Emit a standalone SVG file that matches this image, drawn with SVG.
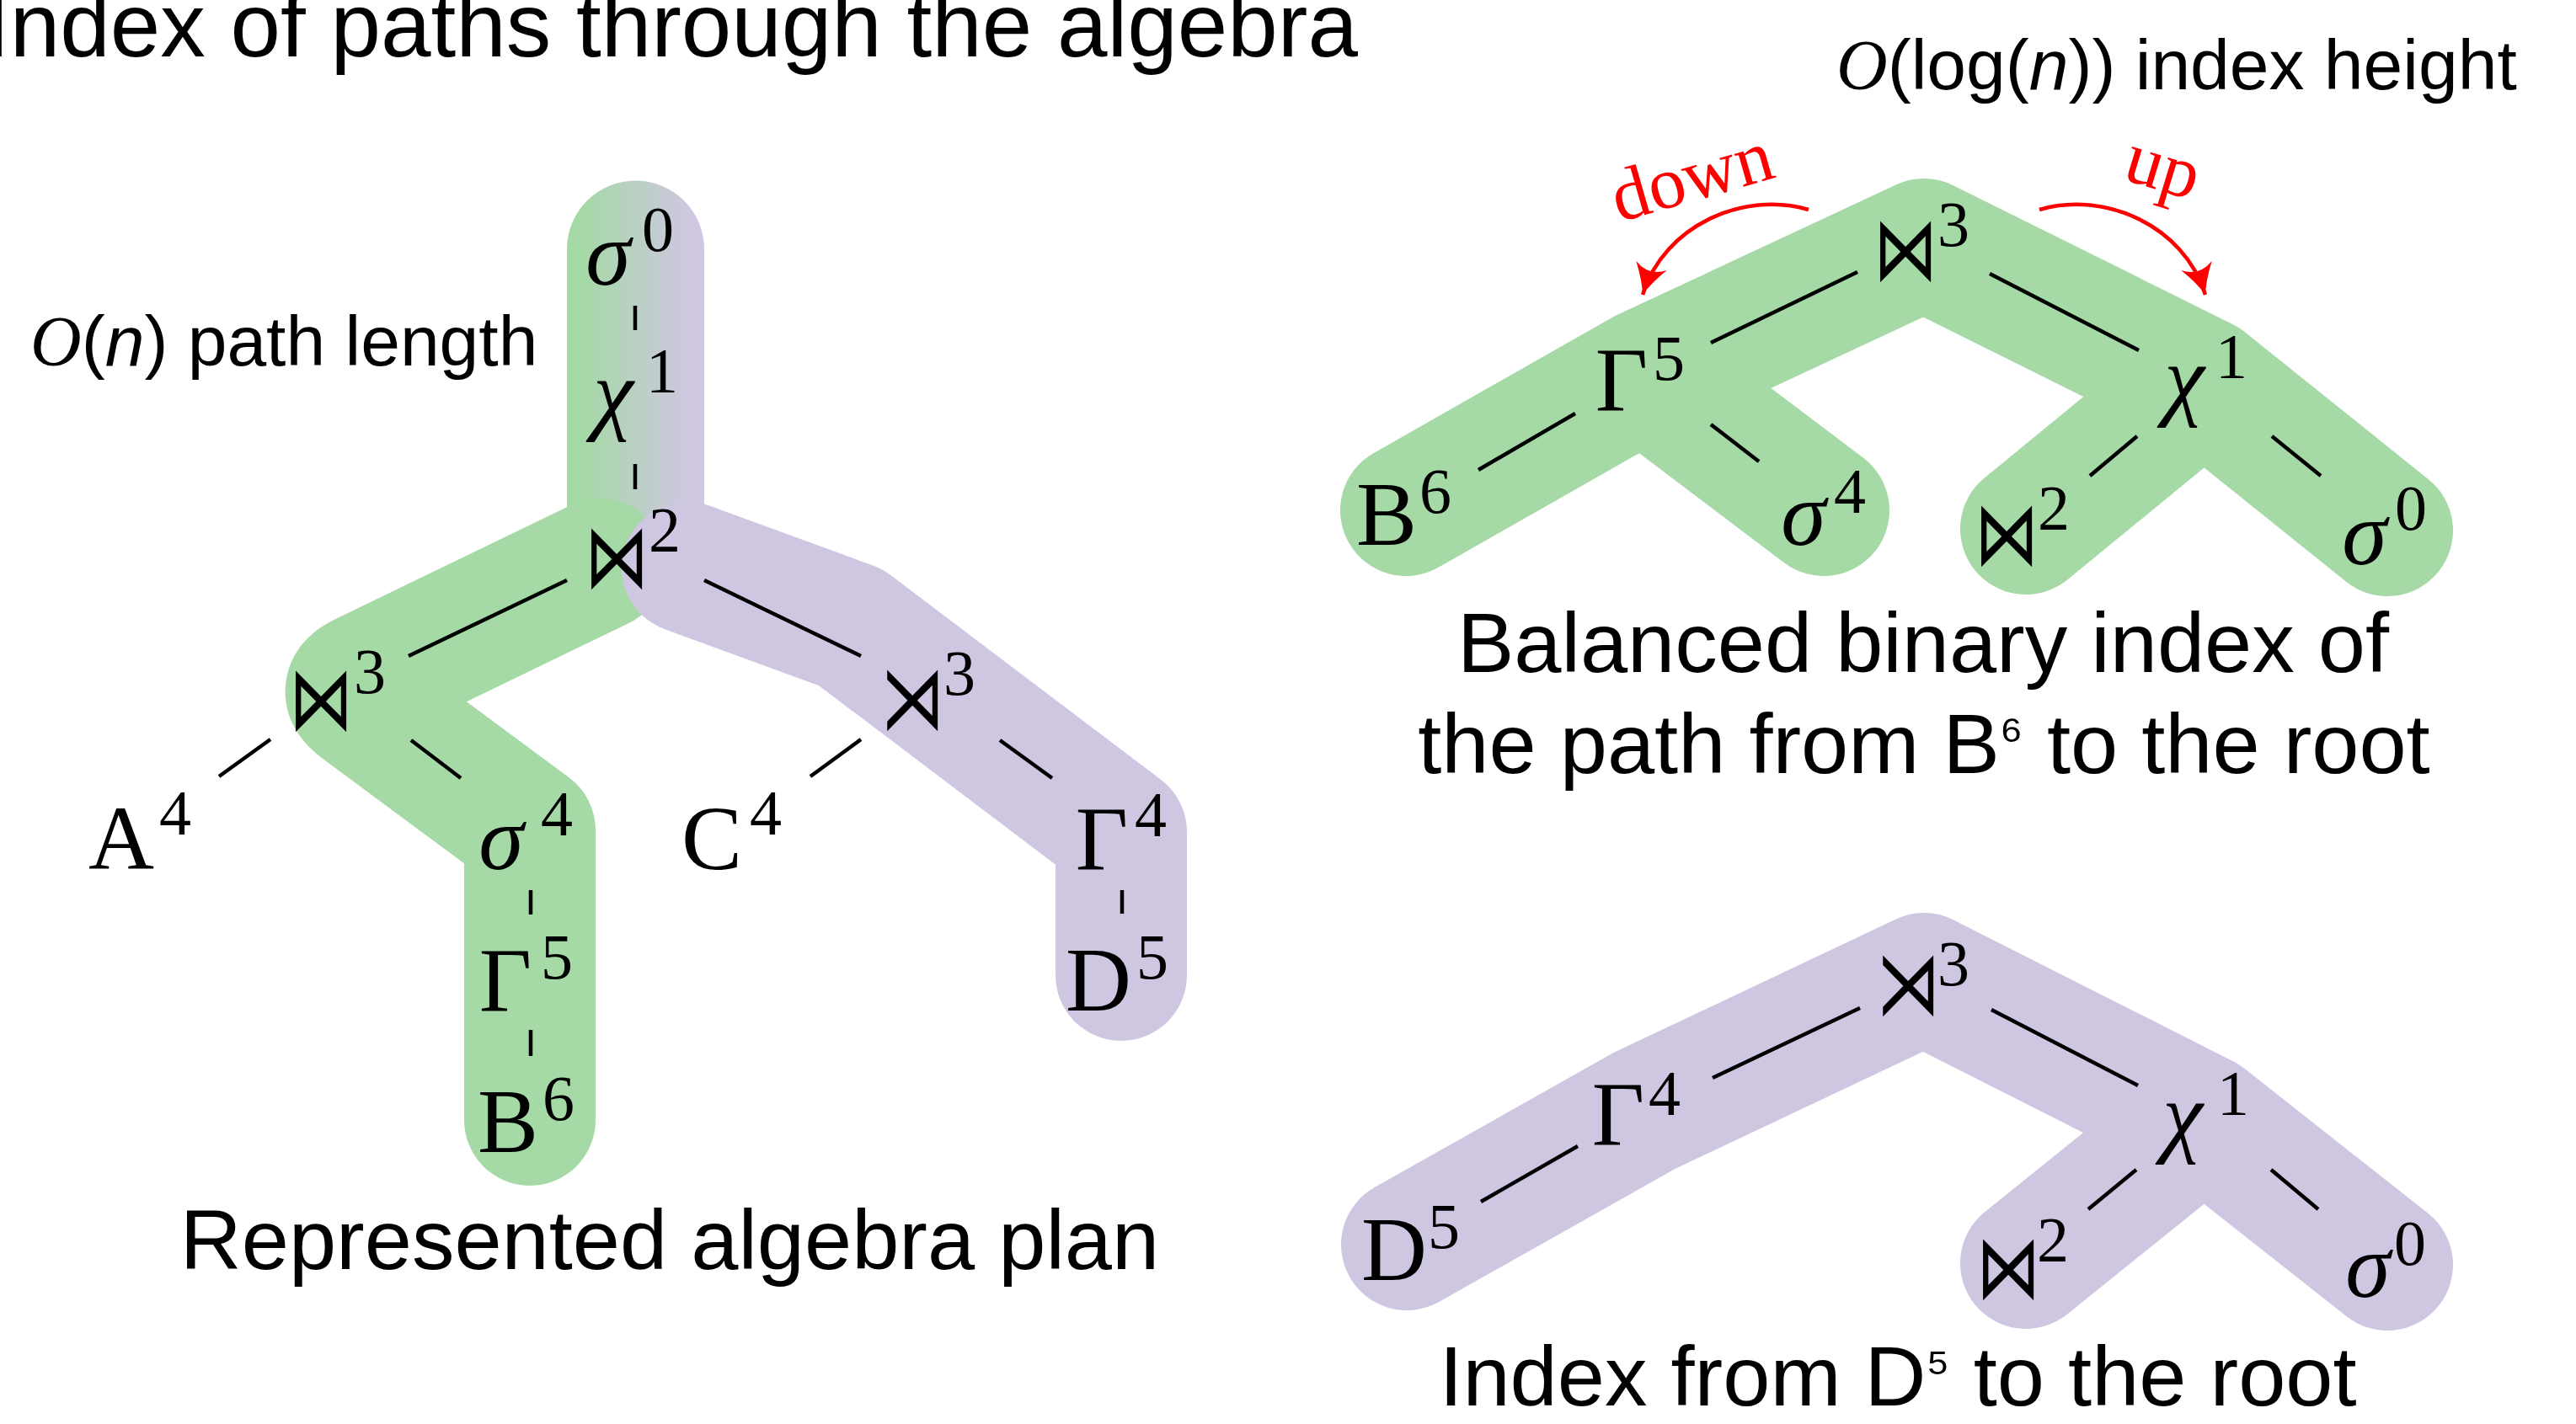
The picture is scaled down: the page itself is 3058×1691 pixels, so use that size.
<svg xmlns="http://www.w3.org/2000/svg" width="3058" height="1691" viewBox="0 0 3058 1691">
<style>
.bg{fill:none;stroke-width:156;stroke-linecap:round;stroke-linejoin:round}
.g{stroke:#a5d9a5}
.p{stroke:#cfc7e2}
.e{stroke:#000;stroke-width:4.5;fill:none}
.m{font-family:"Liberation Serif","DejaVu Serif",serif;font-size:108px;text-anchor:middle;fill:#000}
.i{font-style:italic}
.s{font-family:"Liberation Serif","DejaVu Serif",serif;font-size:76px;text-anchor:middle;fill:#000}
.op{font-family:"DejaVu Sans",sans-serif;font-size:76px;text-anchor:middle;fill:#000}
.t{font-family:"Liberation Sans",Arial,sans-serif;fill:#000}
.cap{font-family:"Liberation Sans",Arial,sans-serif;font-size:101px;text-anchor:middle;fill:#000}
.sm{font-size:68px}
.red{fill:none;stroke:#ff0000;stroke-width:4.5}
.rt{font-family:"Liberation Serif","DejaVu Serif",serif;font-size:88px;fill:#ff0000;text-anchor:middle}
</style>
<defs>
<linearGradient id="colGrad" gradientUnits="userSpaceOnUse" x1="673" y1="0" x2="836" y2="0">
<stop offset="0.1" stop-color="#a5d9a5"/>
<stop offset="0.9" stop-color="#cfc7e2"/>
</linearGradient>
<marker id="ah" markerUnits="userSpaceOnUse" markerWidth="44" markerHeight="44" viewBox="-38 -22 44 44" refX="0" refY="0" orient="auto">
<path d="M0,0 Q-15,-5 -36,-19 Q-23,0 -36,19 Q-15,5 0,0 Z" fill="#ff0000"/>
</marker>
</defs>

<g id="bands">
<path d="M673,296 A81.5,81.5 0 0 1 836,296 L836,650 L673,650 Z" fill="url(#colGrad)"/>
<path class="bg g" d="M712,670 L431,806 Q404,819 428,837 L629,986 L629,1330"/>
<path class="bg p" d="M816,674 L1010,745 L1331,988 L1331,1158"/>
<path class="bg g" d="M1669,606 L1952,445 L2284,290 L2616,455 L2834,630 M1952,445 L2165,606 M2616,455 L2405,628"/>
<path class="bg p" d="M1670,1478 L1952,1319 L2284,1162 L2616,1330 L2834,1502 M2616,1330 L2405,1500"/>
</g>

<g id="connectors">
<line class="e" x1="754" y1="363" x2="754" y2="392"/>
<line class="e" x1="754" y1="551" x2="754" y2="581"/>
<line class="e" x1="673" y1="689" x2="485" y2="779"/>
<line class="e" x1="836" y1="689" x2="1022" y2="779"/>
<line class="e" x1="321" y1="878" x2="260" y2="922"/>
<line class="e" x1="488" y1="879" x2="547" y2="924"/>
<line class="e" x1="630" y1="1057" x2="630" y2="1086"/>
<line class="e" x1="630" y1="1223" x2="630" y2="1254"/>
<line class="e" x1="1022" y1="878" x2="962" y2="922"/>
<line class="e" x1="1187" y1="879" x2="1249" y2="924"/>
<line class="e" x1="1332" y1="1057" x2="1332" y2="1085"/>

<line class="e" x1="2205" y1="323" x2="2031" y2="407"/>
<line class="e" x1="2362" y1="325" x2="2539" y2="416"/>
<line class="e" x1="1870" y1="491" x2="1755" y2="558"/>
<line class="e" x1="2031" y1="504" x2="2088" y2="548"/>
<line class="e" x1="2537" y1="518" x2="2481" y2="565"/>
<line class="e" x1="2697" y1="518" x2="2755" y2="565"/>

<line class="e" x1="2208" y1="1197" x2="2033" y2="1280"/>
<line class="e" x1="2364" y1="1199" x2="2538" y2="1289"/>
<line class="e" x1="1873" y1="1361" x2="1758" y2="1427"/>
<line class="e" x1="2536" y1="1389" x2="2479" y2="1436"/>
<line class="e" x1="2696" y1="1389" x2="2752" y2="1436"/>

<path class="red" marker-end="url(#ah)" d="M2147,249 C2070,226 1975,268 1950,350"/>
<path class="red" marker-end="url(#ah)" d="M2421,249 C2498,226 2593,268 2618,350"/>
</g>

<g id="texts">
<text class="t" x="-18" y="67" font-size="107">Index of paths through the algebra</text>
<text class="t" x="36" y="434" font-size="84"><tspan font-family="Liberation Serif" font-style="italic">O</tspan>(<tspan font-style="italic">n</tspan>) path length</text>
<text class="t" x="2180" y="106" font-size="84"><tspan font-family="Liberation Serif" font-style="italic">O</tspan>(log(<tspan font-style="italic">n</tspan>)) index height</text>
<text class="cap" x="795" y="1507">Represented algebra plan</text>
<text class="cap" x="2283" y="798">Balanced binary index of</text>
<text class="cap" x="2284" y="918">the path from B<tspan class="sm" dy="-20">⁶</tspan><tspan dy="20"> to the root</tspan></text>
<text class="cap" x="2253" y="1669">Index from D<tspan class="sm" dy="-20">⁵</tspan><tspan dy="20"> to the root</tspan></text>
<text class="rt" x="2016" y="237" transform="rotate(-16 2016 237)">down</text>
<text class="rt" x="2560" y="225" transform="rotate(17 2560 225)">up</text>
</g>

<g id="node-L-sigma0"><text class="m i" x="722" y="338">σ</text><text class="s" x="781" y="298">0</text></g>
<g id="node-L-chi1"><text class="m i" x="728" y="502">χ</text><text class="s" x="786" y="466">1</text></g>
<g id="node-L-join2"><text class="op" transform="translate(732,697) scale(1,1.39)">⋈</text><text class="s" x="789" y="655">2</text></g>
<g id="node-L-join3"><text class="op" transform="translate(381,866) scale(1,1.39)">⋈</text><text class="s" x="439" y="823">3</text></g>
<g id="node-L-A4"><text class="m" x="144" y="1032">A</text><text class="s" x="208" y="991">4</text></g>
<g id="node-L-sigma4"><text class="m i" x="595" y="1032">σ</text><text class="s" x="661" y="992">4</text></g>
<g id="node-L-Gamma5"><text class="m" x="600" y="1200">Γ</text><text class="s" x="661" y="1162">5</text></g>
<g id="node-L-B6"><text class="m" x="603" y="1368">B</text><text class="s" x="663" y="1330">6</text></g>
<g id="node-L-C4"><text class="m" x="845" y="1032">C</text><text class="s" x="909" y="991">4</text></g>
<g id="node-L-semi3"><text class="op" transform="translate(1083,865) scale(1,1.39)">⋊</text><text class="s" x="1139" y="825">3</text></g>
<g id="node-L-Gamma4"><text class="m" x="1308" y="1032">Γ</text><text class="s" x="1366" y="993">4</text></g>
<g id="node-L-D5"><text class="m" x="1304" y="1200">D</text><text class="s" x="1368" y="1162">5</text></g>

<g id="node-R1-join3"><text class="op" transform="translate(2262,332) scale(1,1.39)">⋈</text><text class="s" x="2319" y="292">3</text></g>
<g id="node-R1-Gamma5"><text class="m" x="1925" y="487">Γ</text><text class="s" x="1981" y="451">5</text></g>
<g id="node-R1-chi1"><text class="m i" x="2593" y="485">χ</text><text class="s" x="2649" y="449">1</text></g>
<g id="node-R1-B6"><text class="m" x="1646" y="647">B</text><text class="s" x="1704" y="609">6</text></g>
<g id="node-R1-sigma4"><text class="m i" x="2141" y="647">σ</text><text class="s" x="2196" y="609">4</text></g>
<g id="node-R1-join2"><text class="op" transform="translate(2382,670) scale(1,1.39)">⋈</text><text class="s" x="2438" y="629">2</text></g>
<g id="node-R1-sigma0"><text class="m i" x="2807" y="670">σ</text><text class="s" x="2862" y="629">0</text></g>

<g id="node-R2-semi3"><text class="op" transform="translate(2265,1204) scale(1,1.39)">⋊</text><text class="s" x="2319" y="1170">3</text></g>
<g id="node-R2-Gamma4"><text class="m" x="1921" y="1359">Γ</text><text class="s" x="1976" y="1324">4</text></g>
<g id="node-R2-D5"><text class="m" x="1655" y="1520">D</text><text class="s" x="1714" y="1482">5</text></g>
<g id="node-R2-chi1"><text class="m i" x="2591" y="1360">χ</text><text class="s" x="2651" y="1324">1</text></g>
<g id="node-R2-join2"><text class="op" transform="translate(2384,1541) scale(1,1.39)">⋈</text><text class="s" x="2437" y="1498">2</text></g>
<g id="node-R2-sigma0"><text class="m i" x="2811" y="1540">σ</text><text class="s" x="2861" y="1502">0</text></g>
</svg>
